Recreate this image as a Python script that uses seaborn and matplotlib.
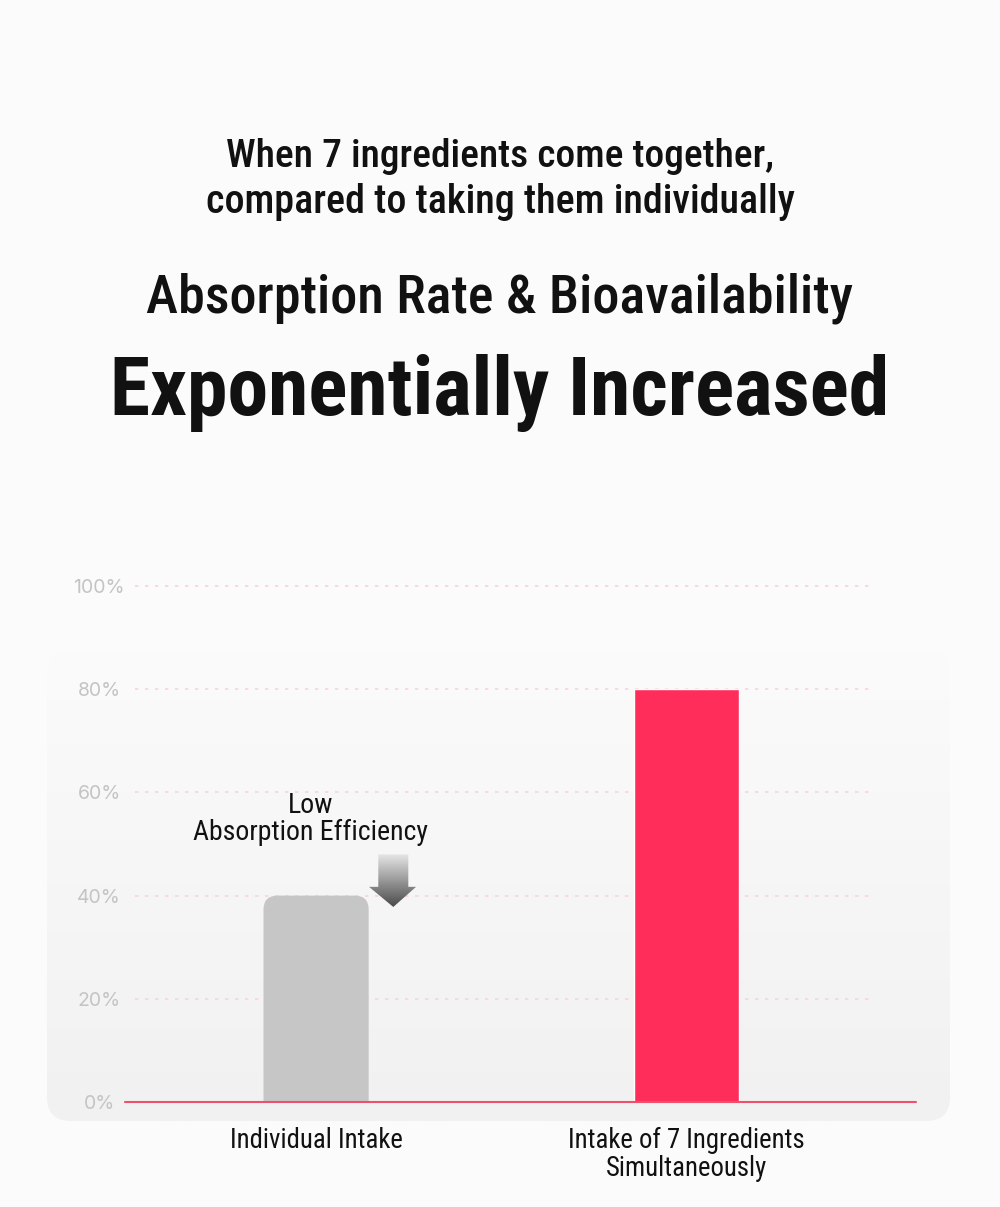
import numpy as np
import pandas as pd
import matplotlib.pyplot as plt
import seaborn as sns
from matplotlib.patches import FancyBboxPatch, Polygon
from matplotlib.colors import LinearSegmentedColormap

# data
categories = ["Individual Intake", "Intake of 7 Ingredients\nSimultaneously"]
absorption = [40, 80]
bar_colors = ["#c6c6c6", "#ff2d5a"]
y_ticks = [0, 20, 40, 60, 80, 100]
y_tick_labels = [f"{v}%" for v in y_ticks]

BG = "#fbfbfb"
CONDENSED = ["Roboto Condensed", "Inter Tight", "Roboto", "DejaVu Sans"]
PLAIN = ["Inter", "Roboto", "DejaVu Sans"]

sns.set_theme(style="white")
plt.rcParams["font.family"] = CONDENSED

W, H = 1000, 1207
fig = plt.figure(figsize=(W / 100, H / 100), dpi=100, facecolor=BG)
renderer = fig.canvas.get_renderer()


def fit_width(artist, target_px):
    # scale the font so the text spans the same width as in the reference
    w = artist.get_window_extent(renderer).width
    artist.set_fontsize(artist.get_fontsize() * target_px / w)


# backdrop in pixel coordinates: soft rounded panel behind the chart
bg = fig.add_axes([0, 0, 1, 1], zorder=0)
bg.axis("off")
panel = FancyBboxPatch((47, 650), 903, 471, boxstyle="round,pad=0,rounding_size=24",
                       fc="none", ec="none")
bg.add_patch(panel)
cmap = LinearSegmentedColormap.from_list("panel", [BG, "#f1f1f1"])
im = bg.imshow(np.linspace(0, 1, 256).reshape(-1, 1), extent=[47, 950, 1121, 650],
               aspect="auto", cmap=cmap, zorder=1)
im.set_clip_path(panel)
bg.set_xlim(0, W); bg.set_ylim(H, 0)

# titles
titles = [
    ("When 7 ingredients come together,", 167, 546, 500),
    ("compared to taking them individually", 213, 588, 500),
    ("Absorption Rate & Bioavailability", 312, 706, 500),
    ("Exponentially Increased", 415, 779, 700),
]
for text, base_y, width_px, weight in titles:
    t = fig.text(0.5, 1 - base_y / H, text, ha="center", va="baseline",
                 fontsize=30, fontweight=weight, color="#111111")
    fit_width(t, width_px)

# chart
ax = fig.add_axes([125 / W, 1 - 1102 / H, 791 / W, 516 / H], zorder=2)
ax.patch.set_alpha(0)
df = pd.DataFrame({"category": categories, "absorption": absorption})
sns.barplot(data=df, x="category", y="absorption", hue="category", palette=bar_colors,
            width=0.284, saturation=1, legend=False, ax=ax, zorder=3)
xlim = (-0.516, 1.62)
ax.set_xlim(*xlim); ax.set_ylim(0, 100)

# round the top corners of the grey bar
bar = min(ax.patches, key=lambda p: p.get_x())
x_per_px = (xlim[1] - xlim[0]) / 791
y_per_px = 100 / 516
r = 14 * x_per_px
rounded = FancyBboxPatch((bar.get_x(), -8), bar.get_width(), bar.get_height() + 8,
                         boxstyle=f"round,pad=0,rounding_size={r}",
                         mutation_aspect=y_per_px / x_per_px,
                         fc=bar.get_facecolor(), ec="none", zorder=3)
bar.set_visible(False)
ax.add_patch(rounded)

for v in y_ticks[1:]:
    ax.axhline(v, xmin=0.013, xmax=0.942, color="#f8d3db", lw=1.2,
               ls=(0, (2, 4)), zorder=1, clip_on=False)
ax.axhline(0, color="#f0506e", lw=1.5, zorder=4, clip_on=False)

ax.set_yticks(y_ticks, y_tick_labels)
ax.tick_params(axis="y", length=0, pad=18.7, labelsize=14, labelcolor="#c4c4c4")
for lbl in ax.get_yticklabels():
    lbl.set_ha("center")
    lbl.set_family(PLAIN)
ax.tick_params(axis="x", length=0, pad=18, labelsize=20, labelcolor="#111111")
ax.set_xlabel(""); ax.set_ylabel("")
sns.despine(ax=ax, left=True, bottom=True)
fig.canvas.draw()
xlabels = ax.get_xticklabels()
probe = fig.text(0, 0, categories[0], fontsize=20)
fit_width(probe, 173)
label_size = probe.get_fontsize()
probe.remove()
for lbl in xlabels:
    lbl.set_fontsize(label_size)
    lbl.set_linespacing(1.05)

# annotation with gradient arrow
note = ax.text(-0.014, 54.9, "Low\nAbsorption Efficiency", ha="center", va="center",
               fontsize=20, color="#111111", linespacing=1.0)
fit_width(note, 235)
arrow = Polygon([(0.168, 48.0), (0.249, 48.0), (0.249, 41.7), (0.270, 41.7),
                 (0.2085, 37.8), (0.143, 41.7), (0.168, 41.7)],
                closed=True, fc="none", ec="none")
ax.add_patch(arrow)
acmap = LinearSegmentedColormap.from_list("arrow", ["#4a4a4a", "#e6e6e6"])
aim = ax.imshow(np.linspace(0, 1, 128).reshape(-1, 1), extent=[0.143, 0.270, 37.8, 48.0],
                origin="lower", aspect="auto", cmap=acmap, zorder=5)
aim.set_clip_path(arrow)
ax.set_xlim(*xlim); ax.set_ylim(0, 100)

fig.savefig("out.png", dpi=100, facecolor=BG)
